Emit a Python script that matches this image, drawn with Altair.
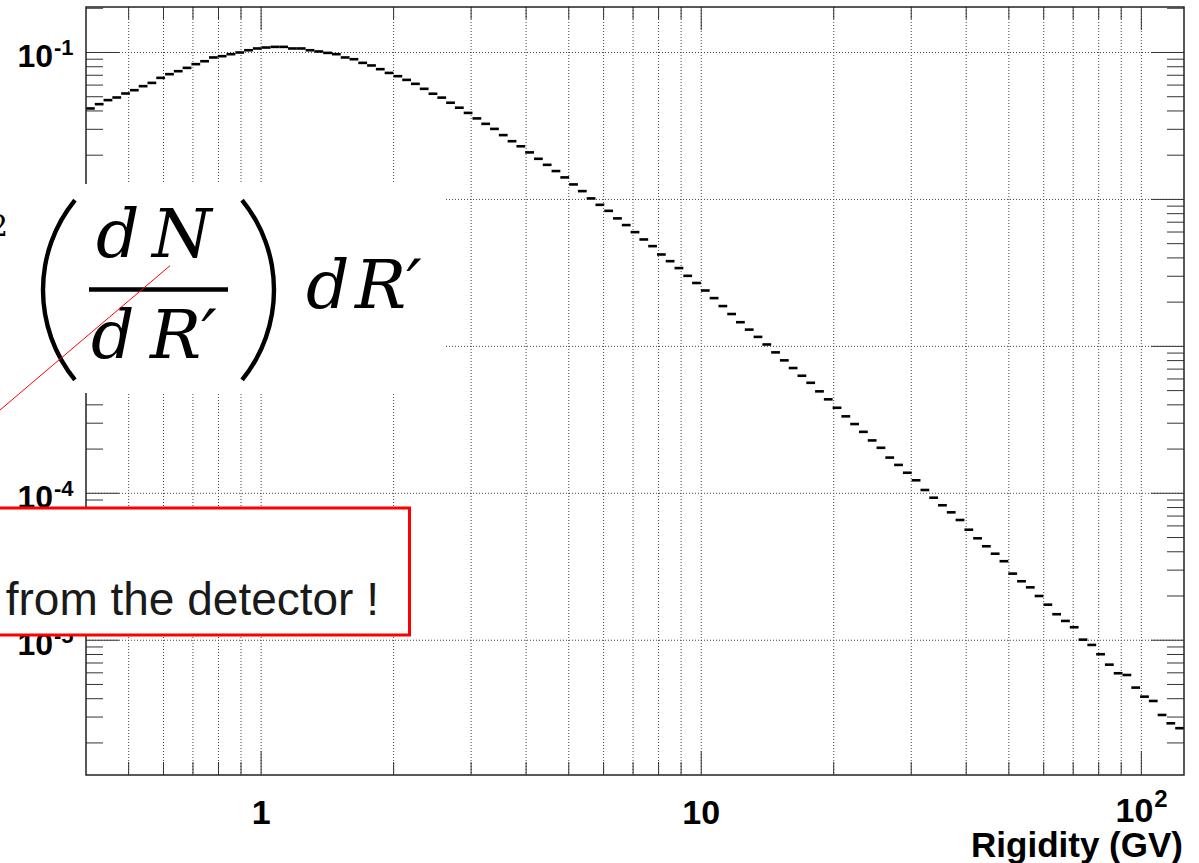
import altair as alt
import pandas as pd

# ---------------- data ----------------
X_MIN, X_MAX = 0.4, 125.0
Y_MIN, Y_MAX = 1.21e-6, 0.204
N_BINS = 125  # equal bins in log(R)

counts = [
    0.0416, 0.0445, 0.0474, 0.0494, 0.0526, 0.0554, 0.0590, 0.0621, 0.0672, 0.0712,
    0.0746, 0.0786, 0.0833, 0.0872, 0.0925, 0.0944, 0.0974, 0.1000, 0.1036, 0.1065,
    0.1081, 0.1092, 0.1092, 0.1065, 0.1065, 0.1036, 0.1016, 0.0994, 0.0974, 0.0925,
    0.0900, 0.0850, 0.0816, 0.0770, 0.0726, 0.0690, 0.0651, 0.0612, 0.0566, 0.0524,
    0.0493, 0.0455, 0.0421, 0.0388, 0.0356, 0.0327, 0.0302, 0.0274, 0.0249, 0.0230,
    0.0209, 0.0189, 0.0172, 0.0156, 0.01412, 0.01265, 0.01139, 0.01016, 0.00919, 0.00836,
    0.00743, 0.00669, 0.00599, 0.00534, 0.00481, 0.00422, 0.00380, 0.00341, 0.00302, 0.00270,
    0.00240, 0.00213, 0.00188, 0.00166, 0.00146, 0.00130, 0.00116, 0.00103, 9.10e-4, 8.03e-4,
    7.12e-4, 6.31e-4, 5.65e-4, 4.94e-4, 4.36e-4, 3.82e-4, 3.34e-4, 2.96e-4, 2.62e-4, 2.29e-4,
    2.04e-4, 1.75e-4, 1.56e-4, 1.38e-4, 1.226e-4, 1.053e-4, 9.33e-5, 8.29e-5, 7.42e-5, 6.58e-5,
    5.65e-5, 4.94e-5, 4.36e-5, 3.88e-5, 3.45e-5, 2.84e-5, 2.52e-5, 2.29e-5, 2.00e-5, 1.746e-5,
    1.503e-5, 1.353e-5, 1.226e-5, 1.009e-5, 9.29e-6, 8.03e-6, 6.82e-6, 5.96e-6, 5.80e-6, 4.76e-6,
    4.13e-6, 3.86e-6, 3.10e-6, 2.72e-6, 2.52e-6,
]

x_major_ticks = [1, 10, 100]
x_minor_ticks = [0.5, 0.6, 0.7, 0.8, 0.9, 2, 3, 4, 5, 6, 7, 8, 9,
                 20, 30, 40, 50, 60, 70, 80, 90]
x_label_values = [1, 10]
x_label_texts = ["1", "10"]
x_pow_value = [100]
x_pow_base = ["10"]
x_pow_exp = ["2"]
x_title = "Rigidity (GV)"

y_major_ticks = [1e-1, 1e-2, 1e-3, 1e-4, 1e-5]
y_major_base = ["10", "10", "10", "10", "10"]
y_major_exps = ["-1", "-2", "-3", "-4", "-5"]
y_minor_ticks = [m * 10.0 ** e for e in range(-6, 0) for m in range(2, 10)]
y_minor_ticks = [t for t in y_minor_ticks if Y_MIN <= t <= Y_MAX]

callout_text = "from the detector !"

# ---------------- layout ----------------
W, H = 1098, 768
PAD_L, PAD_T = 86, 7
SANS = "Liberation Sans"
SERIF = "DejaVu Serif"

xs = alt.Scale(type="log", domain=[X_MIN, X_MAX], nice=False)
ys = alt.Scale(type="log", domain=[Y_MIN, Y_MAX], nice=False)
one = alt.Data(values=[{"a": 1}])

edges = [X_MIN * (X_MAX / X_MIN) ** (k / N_BINS) for k in range(N_BINS + 1)]
hist_df = pd.DataFrame({"lo": edges[:-1], "hi": edges[1:], "v": counts})


def X(field="x"):
    return alt.X(f"{field}:Q", scale=xs, axis=None)


def Y(field="y"):
    return alt.Y(f"{field}:Q", scale=ys, axis=None)


layers = []

# grid
grid_x = pd.DataFrame({"x": x_major_ticks + x_minor_ticks})
layers.append(alt.Chart(grid_x).mark_rule(color="#444", strokeWidth=1, strokeDash=[1, 2]).encode(
    x=X(), y=alt.value(0), y2=alt.value(H)))
grid_y = pd.DataFrame({"y": y_major_ticks})
layers.append(alt.Chart(grid_y).mark_rule(color="#444", strokeWidth=1, strokeDash=[1, 2]).encode(
    y=Y(), x=alt.value(0), x2=alt.value(W)))

# histogram
layers.append(alt.Chart(hist_df).mark_rule(color="black", strokeWidth=2.6, strokeCap="butt", clip=True).encode(
    x=X("lo"), x2="hi:Q", y=Y("v")))

# ticks
tick_col = "#333"
for vals, ln in ((x_minor_ticks, 13), (x_major_ticks, 24)):
    d = pd.DataFrame({"x": vals})
    layers.append(alt.Chart(d).mark_rule(color=tick_col, strokeWidth=1).encode(
        x=X(), y=alt.value(H), y2=alt.value(H - ln)))
    layers.append(alt.Chart(d).mark_rule(color=tick_col, strokeWidth=1).encode(
        x=X(), y=alt.value(0), y2=alt.value(ln - 1)))
for vals, ln in ((y_minor_ticks, 17), (y_major_ticks, 33)):
    d = pd.DataFrame({"y": vals})
    layers.append(alt.Chart(d).mark_rule(color=tick_col, strokeWidth=1).encode(
        y=Y(), x=alt.value(0), x2=alt.value(ln)))
    layers.append(alt.Chart(d).mark_rule(color=tick_col, strokeWidth=1).encode(
        y=Y(), x=alt.value(W - ln), x2=alt.value(W)))

# frame
layers.append(alt.Chart(one).mark_rect(filled=False, stroke="#222", strokeWidth=1.5).encode(
    x=alt.value(0), x2=alt.value(W), y=alt.value(0), y2=alt.value(H)))

# y labels
ylab = pd.DataFrame({"y": y_major_ticks, "b": y_major_base, "e": y_major_exps})
layers.append(alt.Chart(ylab).mark_text(font=SANS, fontWeight="bold", fontSize=32,
                                        align="right", baseline="alphabetic", dy=15, color="black").encode(
    y=Y(), x=alt.value(-33), text="b:N"))
layers.append(alt.Chart(ylab).mark_text(font=SANS, fontWeight="bold", fontSize=22,
                                        align="left", baseline="alphabetic", dy=3, color="black").encode(
    y=Y(), x=alt.value(-32), text="e:N"))

# x labels
xlab = pd.DataFrame({"x": x_label_values, "t": x_label_texts})
layers.append(alt.Chart(xlab).mark_text(font=SANS, fontWeight="bold", fontSize=34,
                                        align="center", baseline="alphabetic", color="black").encode(
    x=X(), y=alt.value(H + 49), text="t:N"))
xpow = pd.DataFrame({"x": x_pow_value, "b": x_pow_base, "e": x_pow_exp})
layers.append(alt.Chart(xpow).mark_text(font=SANS, fontWeight="bold", fontSize=34,
                                        align="right", baseline="alphabetic", dx=12, color="black").encode(
    x=X(), y=alt.value(H + 47), text="b:N"))
layers.append(alt.Chart(xpow).mark_text(font=SANS, fontWeight="bold", fontSize=24,
                                        align="left", baseline="alphabetic", dx=13, color="black").encode(
    x=X(), y=alt.value(H + 32), text="e:N"))
layers.append(alt.Chart(one).mark_text(font=SANS, fontWeight="bold", fontSize=35,
                                       align="right", baseline="alphabetic", color="black").encode(
    x=alt.value(W - 1), y=alt.value(H + 82), text=alt.value(x_title)))

# ---------------- pasted formula (white patch) ----------------
layers.append(alt.Chart(one).mark_rect(fill="white", stroke=None).encode(
    x=alt.value(-PAD_L - 5), x2=alt.value(444 - PAD_L), y=alt.value(184 - PAD_T), y2=alt.value(393 - PAD_T)))

serif = dict(font=SERIF, fontStyle="italic", fontSize=68, align="left",
             baseline="alphabetic", color="black")
formula = [
    ("d", 96, 257), ("N", 152, 257),
    ("d", 91, 358), ("R\u2032", 150, 358),
    ("d", 306, 308), ("R\u2032", 355, 308),
]
for t, px, py in formula:
    layers.append(alt.Chart(one).mark_text(**serif).encode(
        x=alt.value(px - PAD_L), y=alt.value(py - PAD_T), text=alt.value(t)))
layers.append(alt.Chart(one).mark_text(font=SERIF, fontSize=30, align="right",
                                       baseline="alphabetic", color="black").encode(
    x=alt.value(8 - PAD_L), y=alt.value(236 - PAD_T), text=alt.value("2")))
# fraction bar
layers.append(alt.Chart(one).mark_rule(color="black", strokeWidth=4.5, strokeCap="butt").encode(
    x=alt.value(89 - PAD_L), x2=alt.value(228 - PAD_L), y=alt.value(289.5 - PAD_T), y2=alt.value(289.5 - PAD_T)))
# parentheses
R = 142.6
layers.append(alt.Chart(one).mark_arc(theta=4.03, theta2=5.395, radius=R + 2.2, radius2=R - 2.2,
                                      color="black").encode(
    x=alt.value(185.6 - PAD_L), y=alt.value(290 - PAD_T)))
layers.append(alt.Chart(one).mark_arc(theta=0.888, theta2=2.253, radius=R + 2.2, radius2=R - 2.2,
                                      color="black").encode(
    x=alt.value(131.4 - PAD_L), y=alt.value(290 - PAD_T)))

# red pointer line
layers.append(alt.Chart(one).mark_rule(color="red", strokeWidth=1).encode(
    x=alt.value(0 - PAD_L), y=alt.value(410 - PAD_T), x2=alt.value(170 - PAD_L), y2=alt.value(265.7 - PAD_T)))

# red call-out box
layers.append(alt.Chart(one).mark_rect(fill="white", stroke="#ff0000", strokeWidth=3).encode(
    x=alt.value(-PAD_L - 20), x2=alt.value(409.5 - PAD_L), y=alt.value(508 - PAD_T), y2=alt.value(635 - PAD_T)))
layers.append(alt.Chart(one).mark_text(font=SANS, fontSize=46, align="right",
                                       baseline="alphabetic", color="#1a1a1a").encode(
    x=alt.value(379 - PAD_L), y=alt.value(615 - PAD_T), text=alt.value(callout_text)))

chart = alt.layer(*layers).properties(
    width=W, height=H,
    autosize=alt.AutoSizeParams(type="none"),
    padding={"left": PAD_L, "top": PAD_T, "right": 1199 - PAD_L - W, "bottom": 863 - PAD_T - H},
    background="white",
).configure_view(stroke=None)

chart.save("out.html", embed_options={"renderer": "svg", "actions": False})
